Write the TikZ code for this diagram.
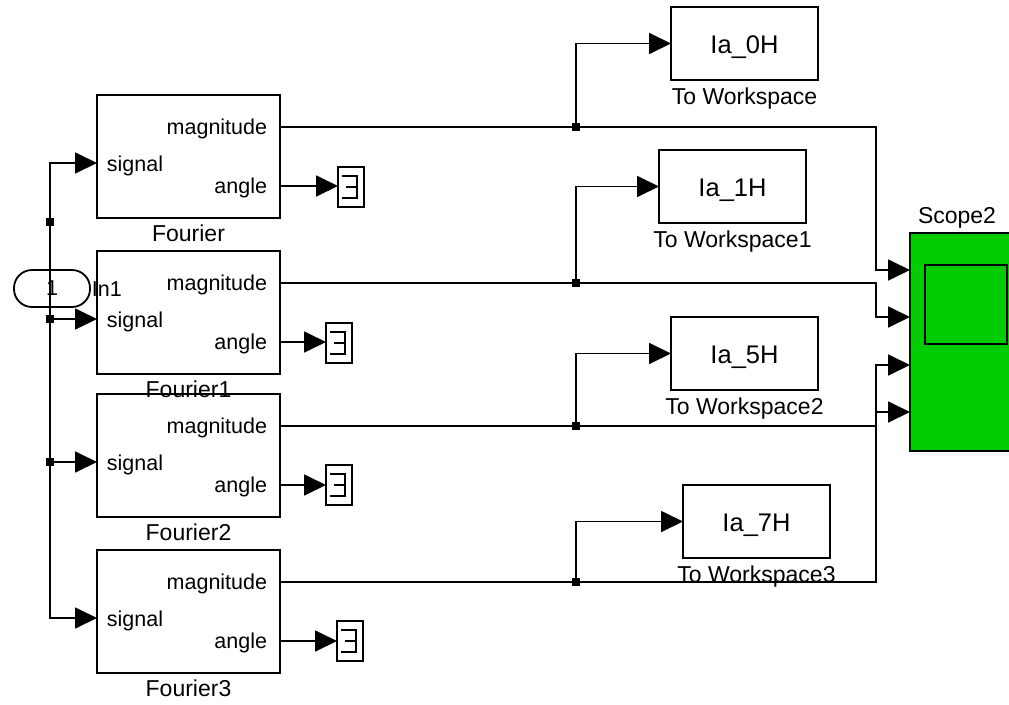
\documentclass[tikz,border=0pt]{standalone}
\usepackage{fontspec}
\setmainfont{Liberation Sans}
\usetikzlibrary{arrows.meta}
\definecolor{scopegreen}{RGB}{0,204,0}
\begin{document}
\begin{tikzpicture}[x=1pt,y=-1pt,line width=1.8pt,
  blk/.style={draw,anchor=north west,inner sep=0pt,outer sep=0pt,line width=1.8pt},
  term/.style={draw,anchor=north west,inner sep=0pt,outer sep=0pt,line width=1.5pt,minimum width=26pt,minimum height=40pt},
  sym/.style={line width=1.5pt},
  arr/.style={-{Triangle[length=22pt,width=21pt]},line width=1.8pt},
  plabel/.style={inner sep=0pt,font=\fontsize{21.5}{24}\selectfont},
  bname/.style={inner sep=0pt,font=\fontsize{23}{26}\selectfont,anchor=base},
  wtext/.style={inner sep=0pt,font=\fontsize{25.5}{28}\selectfont,anchor=base},
  jdot/.style={fill,rectangle,inner sep=0pt,minimum size=8pt},
  pill/.style={draw,rounded corners=18pt,minimum width=76pt,minimum height=37pt,inner sep=0pt,line width=1.8pt,font=\fontsize{21.5}{24}\selectfont}
]
\useasboundingbox (0,0) rectangle (1009,704);
\clip (0,0) rectangle (1009,704);

% Fourier blocks
\foreach \n/\t/\lab in {0/95/Fourier,1/251/Fourier1,2/394/Fourier2,3/550/Fourier3}{
  \node[blk,minimum width=183pt,minimum height=123pt] (F\n) at (97,\t) {};
  \node[bname] (F\n-name) at (188.5,\t+146) {\lab};
  \node[plabel,anchor=base east] (F\n-magl) at (268,\t+39) {magnitude};
  \node[plabel,anchor=base west] (F\n-sigl) at (106,\t+76) {signal};
  \node[plabel,anchor=base east] (F\n-angl) at (268,\t+98) {angle};
  \coordinate (F\n-mag) at (280,\t+32);
  \coordinate (F\n-sig) at (97,\t+68);
  \coordinate (F\n-ang) at (280,\t+91);
  \node[jdot] (J\n) at (576,\t+32) {};
}

% Terminators
\foreach \n/\x/\y in {0/338/167,1/326/323,2/326/465,3/337/621}{
  \node[term] (T\n) at (\x,\y) {};
  \draw[sym] ([shift={(4,9)}]T\n.north west) -| ([shift={(19,31)}]T\n.north west) -- ++(-15,0);
  \draw[sym] ([shift={(8,20)}]T\n.north west) -- ++(11,0);
  \draw[arr] (F\n-ang) -- (F\n-ang -| T\n.west);
}

% To Workspace blocks
\foreach \n/\x/\y/\lab/\v in {0/671/7/To Workspace/0,1/659/150/To Workspace1/1,2/671/317/To Workspace2/5,3/683/485/To Workspace3/7}{
  \node[blk,minimum width=147pt,minimum height=73pt] (W\n) at (\x,\y) {};
  \node[wtext] (W\n-txt) at (\x+73.5,\y+46.5) {Ia\_\v H};
  \node[bname] (W\n-name) at (\x+73.5,\y+97.5) {\lab};
  \draw[arr] (J\n.center) |- (W\n.west);
}

% Scope
\node[blk,fill=scopegreen,minimum width=110pt,minimum height=218pt] (Sc) at (910,233) {};
\node[blk,minimum width=82pt,minimum height=79pt] (Scr) at (925,265) {};
\node[bname] (Scname) at (957,223) {Scope2};
\coordinate (S1) at (910,270);
\coordinate (S2) at (910,317);
\coordinate (S3) at (910,365);
\coordinate (S4) at (910,412);
\coordinate (xb) at (876,0);
\draw[arr] (F0-mag) -| (xb |- S1) -- (S1);
\draw[arr] (F1-mag) -| (xb |- S2) -- (S2);
\draw[arr] (F2-mag) -| (xb |- S4) -- (S4);
\draw[arr] (F3-mag) -| (xb |- S3) -- (S3);

% Inport and bus
\node[pill] (In1) at (52,288.5) {1};
\node[plabel,anchor=base west] (In1l) at (91,296) {In1};
\node[jdot] (Jb0) at (50,222) {};
\node[jdot] (Jb1) at (50,319) {};
\node[jdot] (Jb2) at (50,462) {};
\draw[arr] (Jb0.center) |- (F0-sig);
\draw[arr] (Jb0.center) |- (F3-sig);
\draw[arr] (Jb1.center) -- (F1-sig);
\draw[arr] (Jb2.center) -- (F2-sig);
\end{tikzpicture}
\end{document}
